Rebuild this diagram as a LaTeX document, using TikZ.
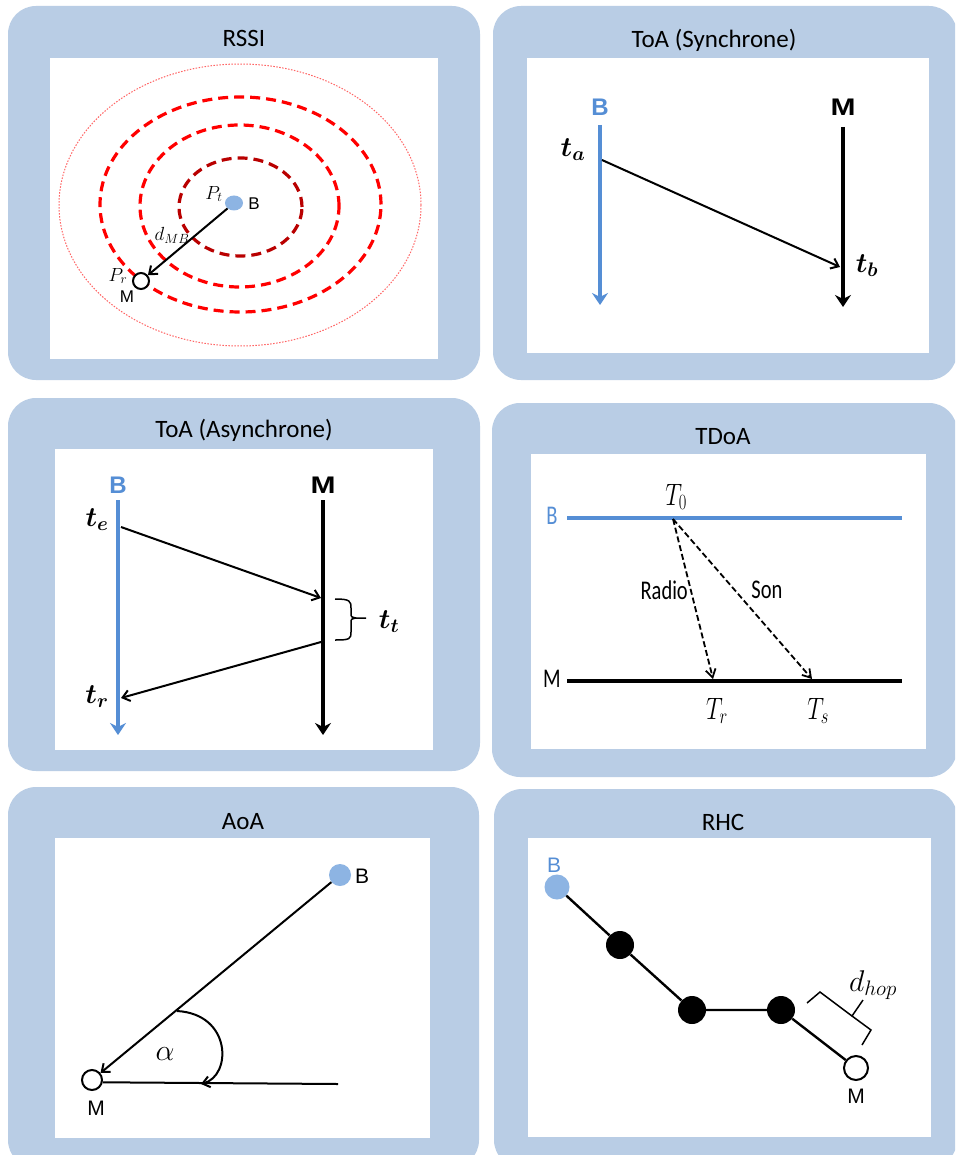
\RequirePackage{fix-cm}
\documentclass[tikz,border=0pt]{standalone}
\usepackage{amsmath}
\usepackage{bm}
\usepackage{fontspec}
\setmainfont{Carlito}
\newfontfamily\arialfont{Liberation Sans}
\usetikzlibrary{arrows.meta,shapes.geometric}
\definecolor{panelblue}{RGB}{185,205,229}
\definecolor{lineblue}{RGB}{85,142,213}
\definecolor{dotblue}{RGB}{141,180,227}
\definecolor{darkred}{RGB}{185,0,0}
\definecolor{lightred}{RGB}{255,100,100}
\newcommand{\cnd}[1]{\scalebox{0.76}[1]{#1}}
\begin{document}
\begin{tikzpicture}[x=1pt,y=-1pt,
  panel/.style={fill=panelblue,rounded corners=28pt},
  ttl/.style={inner sep=0pt,font=\fontsize{25}{30}\selectfont},
  sanslab/.style={inner sep=0pt,font=\arialfont\fontsize{17}{20}\selectfont},
  midsans/.style={inner sep=0pt,font=\arialfont\fontsize{21}{24}\selectfont},
  bigsans/.style={inner sep=0pt,font=\arialfont\bfseries\fontsize{24}{28}\selectfont},
  condlab/.style={inner sep=0pt,font=\fontsize{27}{30}\selectfont},
  mathlab/.style={inner sep=0pt,font=\fontsize{28}{32}\selectfont},
  condmath/.style={inner sep=0pt,font=\fontsize{31}{34}\selectfont},
  smallmath/.style={inner sep=0pt,font=\fontsize{19}{22}\selectfont},
  thinarrow/.style={line width=2pt,-{Straight Barb[length=7pt,width=11pt]}},
  thickarrow/.style={line width=4pt,-{Stealth[length=12pt,width=16pt,inset=4pt]}},
  dasharrow/.style={line width=1.8pt,dash pattern=on 6pt off 3pt,-{Straight Barb[length=8pt,width=10pt]}},
  redring/.style={line width=3.2pt,dash pattern=on 10pt off 6pt},
  opendot/.style={circle,draw=black,line width=2pt,fill=white,inner sep=0pt},
  bluedot/.style={circle,fill=dotblue,inner sep=0pt},
  blackdot/.style={circle,fill=black,inner sep=0pt,minimum size=28pt},
  hopline/.style={line width=2.4pt},
  bracel/.style={line width=1.5pt}
]
\useasboundingbox (0,0) rectangle (955,1155);
\clip (0,0) rectangle (955,1155);
\fill[white] (0,0) rectangle (955,1155);

% ---------- panels ----------
\fill[panel] (8,6) rectangle (480,380);
\fill[white] (50,58) rectangle (438,359);
\fill[panel] (493,6) rectangle (957,380);
\fill[white] (527,58) rectangle (929,353);
\fill[panel] (8,398) rectangle (480,771);
\fill[white] (55,449) rectangle (433,750);
\fill[panel] (492,403) rectangle (957,777);
\fill[white] (531,454) rectangle (926,749);
\fill[panel] (8,787) rectangle (479,1168);
\fill[white] (55,838) rectangle (430,1138);
\fill[panel] (494,789) rectangle (957,1168);
\fill[white] (528,838) rectangle (931,1137);

\node[ttl] (t1) at (244,38) {RSSI};
\node[ttl] (t2) at (714,40) {ToA (Synchrone)};
\node[ttl] (t3) at (244,430) {ToA (Asynchrone)};
\node[ttl] (t4) at (723,437) {TDoA};
\node[ttl] (t5) at (243,822) {AoA};
\node[ttl] (t6) at (723,822) {RHC};

% ---------- RSSI ----------
\draw[lightred,line width=1pt,dash pattern=on 1.5pt off 1.5pt] (240,205) ellipse [x radius=181pt,y radius=141pt];
\draw[red,redring] (240.5,204.5) ellipse [x radius=140.5pt,y radius=107.5pt];
\draw[red,redring] (239.5,206) ellipse [x radius=99.5pt,y radius=81pt];
\draw[darkred,redring] (240.5,207) ellipse [x radius=61.5pt,y radius=49pt];
\node[ellipse,fill=dotblue,inner sep=0pt,minimum width=18pt,minimum height=15pt] (rB) at (234,203) {};
\node[opendot,minimum size=16pt] (rM) at (141,281) {};
\draw[thinarrow] (rB) -- (rM);
\node[sanslab] (rBl) at (254,204) {B};
\node[sanslab] (rMl) at (127,297) {M};
\node[smallmath] (rPt) at (214,194) {$P_t$};
\node[smallmath] (rPr) at (118,276) {$P_r$};
\node[smallmath] (rd) at (172,235) {$d_{MB}$};

% ---------- ToA synchrone ----------
\node[bigsans,text=lineblue] (sBl) at (600,107) {B};
\node[bigsans] (sMl) at (843,107) {\scalebox{1.25}[1]{M}};
\coordinate (sB1) at (600,125); \coordinate (sB2) at (600,305);
\coordinate (sM1) at (843,127); \coordinate (sM2) at (843,307);
\draw[thickarrow,lineblue] (sB1) -- (sB2);
\draw[thickarrow,black] (sM1) -- (sM2);
\coordinate (sTa) at (602,160); \coordinate (sTb) at (840,267);
\draw[thinarrow] (sTa) -- (sTb);
\node[mathlab] (sta) at (573,150) {$\bm{t_a}$};
\node[mathlab] (stb) at (867,266) {$\bm{t_b}$};

% ---------- ToA asynchrone ----------
\node[bigsans,text=lineblue] (aBl) at (118,485) {B};
\node[bigsans] (aMl) at (323,485) {\scalebox{1.25}[1]{M}};
\coordinate (aB1) at (118,500); \coordinate (aB2) at (118,735);
\coordinate (aM1) at (323,500); \coordinate (aM2) at (323,735);
\draw[thickarrow,lineblue] (aB1) -- (aB2);
\draw[thickarrow,black] (aM1) -- (aM2);
\coordinate (aTe) at (121,527); \coordinate (aRx) at (321,598);
\draw[thinarrow] (aTe) -- (aRx);
\coordinate (aTx) at (321,642); \coordinate (aTr) at (121,698);
\draw[thinarrow] (aTx) -- (aTr);
\coordinate (br1) at (335,599); \coordinate (br2) at (335,640); \coordinate (brt) at (366,618);
\draw[bracel] (br1) .. controls (350,599) and (351,601) .. (351,608) -- (351,613)
  .. controls (351,617) .. (356,618) -- (brt);
\draw[bracel] (356,618) .. controls (351,619) .. (351,623) -- (351,632)
  .. controls (351,639) and (350,640) .. (br2);
\node[mathlab] (ate) at (97,520) {$\bm{t_e}$};
\node[mathlab] (atr) at (97,697) {$\bm{t_r}$};
\node[mathlab] (att) at (389,622) {$\bm{t_t}$};

% ---------- TDoA ----------
\node[condlab,text=lineblue] (dBl) at (552,516) {\cnd{B}};
\node[condlab] (dMl) at (552,679) {\cnd{M}};
\coordinate (dB1) at (567,518); \coordinate (dB2) at (902,518);
\coordinate (dM1) at (567,681); \coordinate (dM2) at (902,681);
\draw[lineblue,line width=3.5pt] (dB1) -- (dB2);
\draw[black,line width=3.5pt] (dM1) -- (dM2);
\coordinate (dT0) at (673,519);
\coordinate (dTr) at (713,679);
\coordinate (dTs) at (812,679);
\draw[dasharrow] (dT0) -- (dTr);
\draw[dasharrow] (dT0) -- (dTs);
\node[condmath] (dt0) at (676,497) {\cnd{$T_0$}};
\node[condmath] (dtr) at (717,711) {\cnd{$T_r$}};
\node[condmath] (dts) at (818,711) {\cnd{$T_s$}};
\node[condlab,anchor=east] (drad) at (688,590) {\cnd{Radio}};
\node[condlab] (dson) at (767,590) {\cnd{Son}};

% ---------- AoA ----------
\node[bluedot,minimum size=22pt] (oB) at (340,875) {};
\node[opendot,minimum size=20pt] (oM) at (92,1080) {};
\node[midsans] (oBl) at (362,876) {B};
\node[midsans] (oMl) at (96,1108) {M};
\coordinate (oE) at (338,1084);
\draw[thinarrow] (oB) -- (oM);
\draw[line width=2pt] (oM.-12) -- (oE);
\coordinate (oA1) at (177,1011); \coordinate (oA2) at (201,1084);
\draw[thinarrow] (oA1) .. controls (232,1014) and (232,1076) .. (oA2);
\node[mathlab,font=\fontsize{30}{32}\selectfont] (oal) at (165,1054) {$\alpha$};

% ---------- RHC ----------
\node[bluedot,minimum size=25pt] (hB) at (557,887) {};
\node[blackdot] (h1) at (620,945) {};
\node[blackdot] (h2) at (692,1010) {};
\node[blackdot] (h3) at (781,1010) {};
\node[opendot,minimum size=24pt] (hM) at (856,1068) {};
\draw[hopline] (hB) -- (h1) -- (h2) -- (h3) -- (hM);
\node[midsans,text=lineblue] (hBl) at (554,865) {B};
\node[midsans] (hMl) at (856,1096) {M};
\coordinate (hb1) at (807,1003); \coordinate (hb2) at (862,1045);
\draw[bracel] (hb1) -- (820,992) -- (852,1016) -- (863,1000);
\draw[bracel] (852,1016) -- (871,1030) -- (hb2);
\node[mathlab,font=\fontsize{30}{32}\selectfont] (hd) at (873,985) {$d_{hop}$};
\end{tikzpicture}
\end{document}
